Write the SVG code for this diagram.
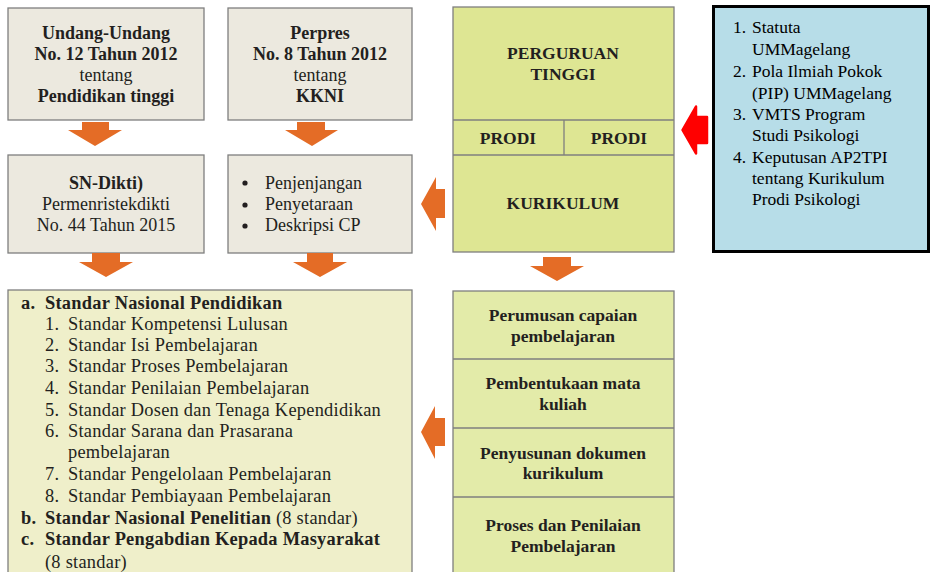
<svg xmlns="http://www.w3.org/2000/svg" width="932" height="572" viewBox="0 0 932 572">
<style>
text{font-family:"Liberation Serif","Times New Roman",serif;fill:#231f20}
.c{text-anchor:middle}
.b{font-weight:bold}
.t{font-size:18px}
.l{font-size:18.4px;letter-spacing:0.25px}
.r{font-size:17.5px;font-weight:bold}
.bl{font-size:17.5px;fill:#000}
.gray{fill:#ece9df;stroke:#7f7f7f;stroke-width:1.3}
.green{fill:#dee693;stroke:#7f7f7f;stroke-width:1.3}
.green2{fill:#e3eba9;stroke:#7f7f7f;stroke-width:1.3}
.yel{fill:#efefca;stroke:#7f7f7f;stroke-width:1.3}
.or{fill:#e46c26}
</style>
<rect width="932" height="572" fill="#fff"/>
<g id="uu">
<rect class="gray" x="8" y="8" width="196" height="112"/>
<text class="c t b" x="106" y="39">Undang-Undang</text>
<text class="c t b" x="106" y="60">No. 12 Tahun 2012</text>
<text class="c t" x="106" y="81">tentang</text>
<text class="c t b" x="106" y="102">Pendidikan tinggi</text>
</g>
<g id="perpres">
<rect class="gray" x="228" y="8" width="184" height="112"/>
<text class="c t b" x="320" y="39">Perpres</text>
<text class="c t b" x="320" y="60">No. 8 Tahun 2012</text>
<text class="c t" x="320" y="81">tentang</text>
<text class="c t b" x="320" y="102">KKNI</text>
</g>
<g id="sndikti">
<rect class="gray" x="8" y="155" width="196" height="98"/>
<text class="c t b" x="106" y="189">SN-Dikti)</text>
<text class="c t" x="106" y="210">Permenristekdikti</text>
<text class="c t" x="106" y="231">No. 44 Tahun 2015</text>
</g>
<g id="kkni-list">
<rect class="gray" x="228" y="155" width="184" height="98"/>
<circle cx="245" cy="183" r="2.6" fill="#231f20"/>
<circle cx="245" cy="205" r="2.6" fill="#231f20"/>
<circle cx="245" cy="226" r="2.6" fill="#231f20"/>
<text class="t" x="265" y="189">Penjenjangan</text>
<text class="t" x="265" y="210">Penyetaraan</text>
<text class="t" x="265" y="231">Deskripsi CP</text>
</g>
<g id="perguruan">
<rect class="green" x="453" y="7" width="221" height="245"/>
<line x1="453" y1="120" x2="674" y2="120" stroke="#7f7f7f" stroke-width="1.3"/>
<line x1="453" y1="155" x2="674" y2="155" stroke="#7f7f7f" stroke-width="1.3"/>
<line x1="564" y1="120" x2="564" y2="155" stroke="#7f7f7f" stroke-width="1.3"/>
<text class="c r" x="563" y="59">PERGURUAN</text>
<text class="c r" x="563" y="80">TINGGI</text>
<text class="c r" x="508" y="144">PRODI</text>
<text class="c r" x="619" y="144">PRODI</text>
<text class="c r" x="563" y="209">KURIKULUM</text>
</g>
<g id="referensi">
<rect x="713.5" y="6.5" width="215" height="245" fill="#b7dde8" stroke="#000" stroke-width="3"/>
<text class="bl" x="733" y="33">1.</text><text class="bl" x="752" y="33">Statuta</text>
<text class="bl" x="752" y="55">UMMagelang</text>
<text class="bl" x="733" y="77">2.</text><text class="bl" x="752" y="77">Pola Ilmiah Pokok</text>
<text class="bl" x="752" y="99">(PIP) UMMagelang</text>
<text class="bl" x="733" y="120">3.</text><text class="bl" x="752" y="120">VMTS Program</text>
<text class="bl" x="752" y="141">Studi Psikologi</text>
<text class="bl" x="733" y="163">4.</text><text class="bl" x="752" y="163">Keputusan AP2TPI</text>
<text class="bl" x="752" y="184">tentang Kurikulum</text>
<text class="bl" x="752" y="205">Prodi Psikologi</text>
</g>
<g id="standar">
<rect class="yel" x="8" y="290" width="404" height="300"/>
<text class="l b" x="21" y="309">a.</text><text class="l b" x="45" y="309">Standar Nasional Pendidikan</text>
<text class="l" x="45" y="330">1.</text><text class="l" x="68" y="330">Standar Kompetensi Lulusan</text>
<text class="l" x="45" y="351">2.</text><text class="l" x="68" y="351">Standar Isi Pembelajaran</text>
<text class="l" x="45" y="372">3.</text><text class="l" x="68" y="372">Standar Proses Pembelajaran</text>
<text class="l" x="45" y="394">4.</text><text class="l" x="68" y="394">Standar Penilaian Pembelajaran</text>
<text class="l" x="45" y="416">5.</text><text class="l" x="68" y="416">Standar Dosen dan Tenaga Kependidikan</text>
<text class="l" x="45" y="437">6.</text><text class="l" x="68" y="437">Standar Sarana dan Prasarana</text>
<text class="l" x="68" y="458">pembelajaran</text>
<text class="l" x="45" y="480">7.</text><text class="l" x="68" y="480">Standar Pengelolaan Pembelajaran</text>
<text class="l" x="45" y="502">8.</text><text class="l" x="68" y="502">Standar Pembiayaan Pembelajaran</text>
<text class="l b" x="21" y="524">b.</text><text class="l" x="45" y="524"><tspan font-weight="bold">Standar Nasional Penelitian</tspan> (8 standar)</text>
<text class="l b" x="21" y="545">c.</text><text class="l b" x="45" y="545">Standar Pengabdian Kepada Masyarakat</text>
<text class="l" x="45" y="568">(8 standar)</text>
</g>
<g id="tahapan">
<rect class="green2" x="453" y="291" width="221" height="300"/>
<line x1="453" y1="359" x2="674" y2="359" stroke="#7f7f7f" stroke-width="1.3"/>
<line x1="453" y1="428" x2="674" y2="428" stroke="#7f7f7f" stroke-width="1.3"/>
<line x1="453" y1="497" x2="674" y2="497" stroke="#7f7f7f" stroke-width="1.3"/>
<text class="c r" x="563" y="321">Perumusan capaian</text>
<text class="c r" x="563" y="342">pembelajaran</text>
<text class="c r" x="563" y="389">Pembentukaan mata</text>
<text class="c r" x="563" y="410">kuliah</text>
<text class="c r" x="563" y="459">Penyusunan dokumen</text>
<text class="c r" x="563" y="479">kurikulum</text>
<text class="c r" x="563" y="531">Proses dan Penilaian</text>
<text class="c r" x="563" y="552">Pembelajaran</text>
</g>
<g id="connectors">
<polygon class="or" points="82,122 109,122 109,130 122,130 95,146 68,130 82,130"/>
<polygon class="or" points="297,122 325,122 325,130 338,130 312,146 285,130 297,130"/>
<polygon class="or" points="92,253 120,253 120,262 133,262 106,277 79,262 92,262"/>
<polygon class="or" points="307,253 333,253 333,262 347,262 320,277 293,262 307,262"/>
<polygon class="or" points="543,257 571,257 571,266 584,266 557,281 530,266 543,266"/>
<polygon class="or" points="445,189 436,189 436,177 421,204 436,231 436,218 445,218"/>
<polygon class="or" points="445,418 435,418 435,406 421,432 435,459 435,446 445,446"/>
<polygon points="707,117 696,117 696,106.5 682.5,130 696,153.5 696,143 707,143" fill="#ff0000" stroke="#ff0000" stroke-width="2.5" stroke-linejoin="round"/>
</g>
</svg>
